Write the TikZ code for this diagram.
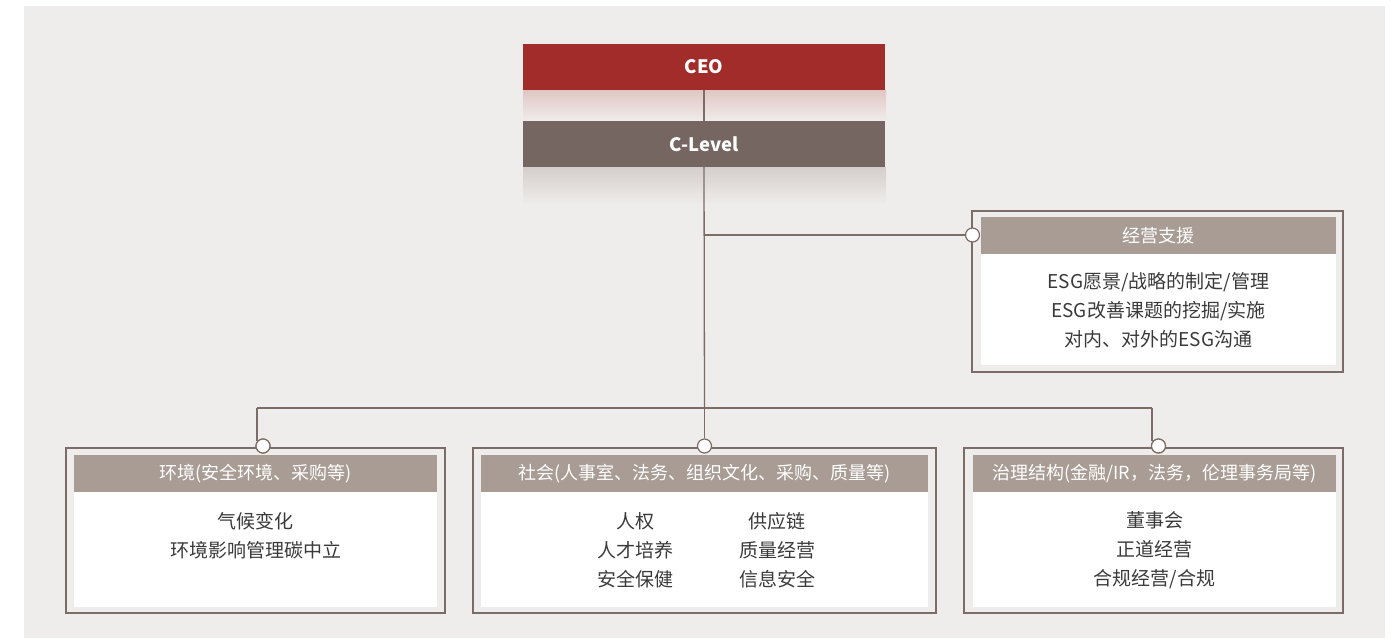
\documentclass[tikz,border=0pt]{standalone}
\usepackage{fontspec}
\setmainfont{Noto Sans CJK SC}
\definecolor{bgc}{HTML}{EFEDEB}
\definecolor{ceoc}{HTML}{A22C2A}
\definecolor{clevc}{HTML}{756661}
\definecolor{headc}{HTML}{A89C94}
\definecolor{linec}{HTML}{7C6C68}
\definecolor{textc}{HTML}{3A3A3A}
\definecolor{ceofade}{HTML}{E0C6C3}
\definecolor{clevfade}{HTML}{D4CECB}
\tikzset{
  topbox/.style={inner sep=0pt, text=white, font=\fontsize{18.5}{20}\selectfont\bfseries},
  outerbox/.style={draw=linec, line width=1.3pt, inner sep=0pt},
  headbox/.style={fill=headc, inner sep=0pt, text=white, font=\fontsize{18}{20}\selectfont},
  bodybox/.style={fill=white, inner sep=0pt},
  bodytext/.style={text=textc, align=center, inner sep=0pt, font=\fontsize{19}{29}\selectfont},
  conn/.style={draw=linec, line width=1.3pt},
  knob/.style={circle, draw=linec, line width=1.2pt, fill=white, minimum size=14pt, inner sep=0pt},
}
\begin{document}
\begin{tikzpicture}[x=1pt,y=-1pt]
\useasboundingbox (0,0) rectangle (1398,638);
\fill[bgc] (24,6) rectangle (1385,638);
% fades
\shade[top color=ceofade, bottom color=bgc] (523,90) rectangle (886,121);
\shade[top color=clevfade, bottom color=bgc] (523,167) rectangle (886,205);
% outer boxes
\node[outerbox, minimum width=371pt, minimum height=161pt] (mgmt) at (1157.5,291.5) {};
\node[outerbox, minimum width=379pt, minimum height=165pt] (env) at (255.5,530.5) {};
\node[outerbox, minimum width=463pt, minimum height=165pt] (soc) at (704.5,530.5) {};
\node[outerbox, minimum width=379pt, minimum height=165pt] (gov) at (1153.5,530.5) {};
% top nodes
\node[topbox, fill=ceoc, minimum width=362pt, minimum height=46pt] (ceo) at (704,67) {CEO};
\node[topbox, fill=clevc, minimum width=362pt, minimum height=46pt] (clev) at (704,144) {C-Level};
% connectors
\coordinate (hub) at (704.5,235);
\coordinate (bar) at (704.5,408);
\coordinate (barL) at (257,408);
\coordinate (barR) at (1152,408);
\node[knob] (kmgmt) at (972.5,235) {};
\node[knob] (kenv) at (263,446) {};
\node[knob] (ksoc) at (704.5,446) {};
\node[knob] (kgov) at (1158.5,446) {};
\draw[conn] (ceo.south) -- (clev.north);
\draw[conn] (clev.south) -- (bar);
\draw[conn] (hub) -- (kmgmt.west);
\draw[conn] (barL) -- (barR);
\draw[conn] (barL) -- (257,440.5);
\draw[conn] (bar) -- (ksoc.north);
\draw[conn] (barR) -- (1152,440.5);
\node[knob] at (kenv) {};
\node[knob] at (kgov) {};
% inner
\node[headbox, minimum width=355pt, minimum height=37pt] (mgmth) at (1158.5,235.5) {经营支援};
\node[bodybox, minimum width=355pt, minimum height=111pt] (mgmtb) at (1158.5,309.5) {};
\node[bodytext] at (1158.5,310) {ESG愿景/战略的制定/管理\\ESG改善课题的挖掘/实施\\对内、对外的ESG沟通};

\node[headbox, minimum width=363pt, minimum height=37pt] (envh) at (255.5,473.5) {环境(安全环境、采购等)};
\node[bodybox, minimum width=363pt, minimum height=115pt] (envb) at (255.5,549.5) {};
\node[bodytext] at (255.5,535.5) {气候变化\\环境影响管理碳中立};

\node[headbox, minimum width=447pt, minimum height=37pt] (soch) at (704.5,473.5) {社会(人事室、法务、组织文化、采购、质量等)};
\node[bodybox, minimum width=447pt, minimum height=115pt] (socb) at (704.5,549.5) {};
\node[bodytext] at (635,550) {人权\\人才培养\\安全保健};
\node[bodytext] at (777,550) {供应链\\质量经营\\信息安全};

\node[headbox, minimum width=363pt, minimum height=37pt] (govh) at (1154.5,473.5) {治理结构(金融/IR，法务，伦理事务局等)};
\node[bodybox, minimum width=363pt, minimum height=115pt] (govb) at (1154.5,549.5) {};
\node[bodytext] at (1154.5,550) {董事会\\正道经营\\合规经营/合规};
\end{tikzpicture}
\end{document}
